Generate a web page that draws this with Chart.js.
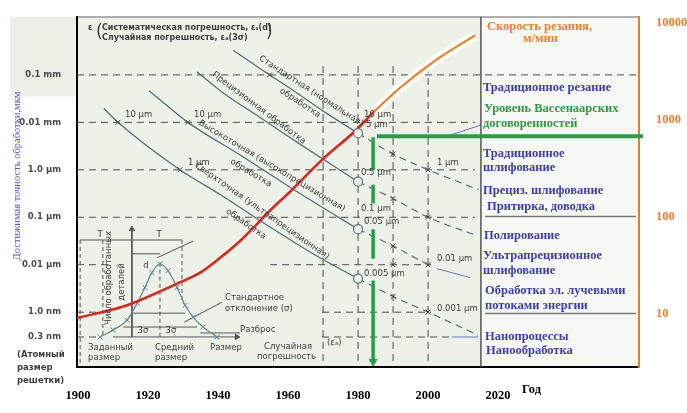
<!DOCTYPE html>
<html>
<head>
<meta charset="utf-8">
<script src="https://cdn.jsdelivr.net/npm/chart.js@4"></script>
<style>
  html, body { margin: 0; padding: 0; background: #fff; }
  canvas { display: block; }
</style>
</head>
<body>
<canvas id="chart" width="687" height="413"></canvas>
<script>
// ось X - годы
const yearTicks = [1900, 1920, 1940, 1960, 1980, 2000, 2020];
// левая ось - достижимая точность, мкм
const accTicks = [100, 10, 1, 0.1, 0.01, 0.001, 0.0003];
const accLabels = ['0.1 mm', '0.01 mm', '1.0 μm', '0.1 μm', '0.01 μm', '1.0 nm', '0.3 nm'];
// правая ось - скорость резания, м/мин
const speedTicks = [10, 100, 1000, 10000];

// скорость резания (красный участок и оранжевый)
const speedYears = [1899.7, 1914, 1928.3, 1934.9, 1940.6, 1946.3, 1950, 1954.9, 1960.6, 1969.7, 1979.7, 1984.3];
const speedVals = [0.00075, 0.0014, 0.004, 0.0068, 0.014, 0.0316, 0.059, 0.14, 0.348, 1.62, 7.15, 16.2];
const speedYears2 = [1984.3, 1992, 2002.6, 2013.4];
const speedVals2 = [16.2, 53.6, 215, 681];

// линии точности до 1980
const normYears = [1944.3, 1952.6, 1962, 1970.6, 1980];
const normVals = [332, 127, 44.3, 16.2, 5.9];
const precYears = [1934, 1941.4, 1952, 1963.4, 1980];
const precVals = [115, 42.2, 12.7, 3.48, 0.562];
const highYears = [1920.3, 1931.4, 1946.3, 1963.4, 1980];
const highVals = [46.4, 10, 2.05, 0.316, 0.0562];
const ultraYears = [1907.4, 1911.4, 1929.1, 1940.6, 1954.9, 1969.1, 1980];
const ultraVals = [19.6, 10, 1, 0.301, 0.0619, 0.014, 0.0051];

// прогноз после 1980
const fcYears = [1980, 1990, 2000, 2014.3];
const normFc = [5.9, 2.15, 1, 0.383];
const precFc = [0.562, 0.249, 0.1, 0.0402];
const highFc = [0.0562, 0.0249, 0.01];
const ultraFc = [0.0051, 0.00215, 0.001, 0.00033];

// кружки 1980 и крестики
const circleVals = [5.9, 0.562, 0.0562, 0.0051];
const crossYears = [1954.7, 1911.4, 1929.1, 1931.4, 1990, 2000, 1990, 2000, 1990, 1990, 2000, 1990, 2000];
const crossVals = [100, 10, 1, 10, 2.15, 1, 0.249, 0.1, 0.0249, 0.01, 0.01, 0.00215, 0.001];

// врезка: распределение размеров
const gaussYears = [1906.3, 1910, 1914, 1916.9, 1919.1, 1921.1, 1923.4, 1925.7, 1928.3, 1930.6, 1932.9, 1935.7, 1939.7];
const gaussVals = [0.000301, 0.000422, 0.00068, 0.00154, 0.00332, 0.0068, 0.0105, 0.0075, 0.00332, 0.0014, 0.000787, 0.000487, 0.000301];

// уровень Вассенаарских договоренностей
const wassYear = 1984.3;
const wassLevel = 5.1;
const wassDrop = [[4.87, 0.98], [0.487, 0.196], [0.056, 0.0133], [0.00464, 9.1e-5]];

const Y_MIN = 7.1e-5, Y_MAX = 1700;
const panelYear = 2015.1;

// пунктирная сетка: [значение, от, до]
const hGrid = [
  [100, 1899.7, 2062], [10, 1899.7, 2013.4], [1, 1899.7, 2013.4], [0.1, 1899.7, 2013.4],
  [0.01, 1899.7, 1909.1], [0.01, 1954.9, 2000.9],
  [0.001, 1899.7, 1905.4], [0.001, 1969.7, 2000.9],
  [0.0003, 1899.7, 1906.3], [0.0003, 1969.7, 2006.9]
];
const vGrid = [1970, 1980, 1990, 2000];

// отрезки врезки [x1, y1, x2, y2]
const insetDash = [
  [1900.6, 0.0332, 1900.6, Y_MIN], [1907.1, 0.0332, 1907.1, 0.000301],
  [1923.4, 0.011, 1923.4, 0.000301], [1929.7, 0.0332, 1929.7, 0.00178]
];
const insetSolid = [
  [1915.4, 0.0562, 1915.4, 0.000301], [1910, 0.000301, 1945.4, 0.000301],
  [1900.6, 0.0332, 1929.7, 0.0332], [1915.4, 0.017, 1923.4, 0.017],
  [1915.4, 0.000953, 1930.6, 0.000953], [1912.9, 0.000487, 1934, 0.000487],
  [1941.1, 0.00162, 1930.3, 0.000615], [1932.9, 0.0316, 1922.6, 0.014],
  [1934.9, 0.000365, 1946.3, 0.000365]
];
const blueLeaders = [
  [2006.3, 5.36, 2014.9, 8.66], [2002.6, 0.00825, 2012, 0.00536], [2006.9, 0.0003, 2014.3, 0.0003]
];

const pts = (xs, ys) => xs.map((x, i) => ({ x: x, y: ys[i] }));
const segs = (list) => list.flatMap(s => [{ x: s[0], y: s[1] }, { x: s[2], y: s[3] }, { x: s[2], y: null }]);

const line = (data, color, width, dash, extra) => Object.assign({
  data: data, borderColor: color, borderWidth: width, borderDash: dash || [],
  pointRadius: 0, fill: false, tension: 0
}, extra || {});
const smooth = { cubicInterpolationMode: 'monotone' };
const marks = (data, style, r, color, extra) => Object.assign({
  data: data, showLine: false, pointStyle: style, pointRadius: r,
  borderColor: color, backgroundColor: color, pointBorderWidth: 1
}, extra || {});

const LINE = '#5b6e7c', DASH = [7, 5], GRID = '#4d4d4d', INK = '#555';

// снизу вверх
let layers = [
  line(segs([[panelYear, Y_MAX, panelYear, Y_MIN]]), '#555', 1.5),
  line(segs([[2016.3, 100, 2059.4, 100], [2016.3, 10, 2059.4, 10]]), '#777', 1.5, null, { yAxisID: 'y2' }),
  line(segs(hGrid.map(g => [g[1], g[0], g[2], g[0]])), GRID, 1, DASH),
  line(segs(vGrid.map(v => [v, 154, v, Y_MIN])), GRID, 1, DASH),
  line(segs(insetDash), INK, 1, [4, 3]),
  line(segs(insetSolid), INK, 1),
  line(pts(gaussYears, gaussVals), '#6a8596', 1.2, null,
    Object.assign({ pointStyle: 'crossRot', pointRadius: 3.5, pointBorderWidth: 1 }, smooth)),
  line(pts(normYears, normVals), LINE, 1.3, null, smooth),
  line(pts(precYears, precVals), LINE, 1.3, null, smooth),
  line(pts(highYears, highVals), LINE, 1.3, null, smooth),
  line(pts(ultraYears, ultraVals), LINE, 1.3, null, smooth),
  line(pts(fcYears, normFc), '#55606a', 1.1, DASH, smooth),
  line(pts(fcYears, precFc), '#55606a', 1.1, DASH, smooth),
  line(pts(fcYears, highFc), '#55606a', 1.1, DASH, smooth),
  line(pts(fcYears, ultraFc), '#55606a', 1.1, DASH, smooth),
  line(segs(blueLeaders), '#5566c4', 0.9),
  marks(pts(crossYears, crossVals), 'crossRot', 3.5, '#444'),
  line(pts(speedYears2, speedVals2), 'rgba(255,255,255,0.85)', 10, null, smooth),
  line(pts(speedYears, speedVals), '#e3211c', 2.5, null, smooth),
  line(pts(speedYears2, speedVals2), '#f47a20', 2, null, smooth),
  marks(pts(circleVals.map(() => 1980), circleVals), 'circle', 4.5, LINE,
    { backgroundColor: '#eef2ea', pointBorderWidth: 1.2 }),
  line(segs(wassDrop.map(d => [wassYear, d[0], wassYear, d[1]])), '#23a046', 3.5),
  line(pts([wassYear + 1.1, 2061.4], [wassLevel, wassLevel]), '#23a046', 4, null, { clip: false }),
  marks([{ x: wassYear, y: 9.1e-5 }], 'triangle', 4.5, '#23a046', { pointRotation: 180 }),
  marks([{ x: 1915.4, y: 0.0562 }], 'triangle', 3, INK),
  marks([{ x: 1945.4, y: 0.000301 }], 'triangle', 3, INK, { pointRotation: 90 })
];
layers = layers.reverse();

// подписи
const SM = '8.5px "DejaVu Sans"';
const SMB = 'bold 8px "DejaVu Sans"';
const PAN = 'bold 12.5px "Liberation Serif"';
const TXT = '#3e3e3e', BLUE = '#3d3db5', GREEN = '#2e9a42', ORANGE = '#f07f2d';

const notes = [
  ['ε', 88, 28, SMB, TXT], ['(', 96, 33, '17px "DejaVu Sans"', TXT],
  ['Систематическая погрешность, εₛ(d)', 102, 28, SMB, TXT],
  ['Случайная погрешность, εₐ(3σ)', 102, 38, SMB, TXT],
  [')', 266, 33, '17px "DejaVu Sans"', TXT],

  ['10 μm', 125, 115, SM, TXT], ['10 μm', 194, 115, SM, TXT], ['1 μm', 188, 163, SM, TXT],
  ['10 μm', 364, 115, SM, TXT], ['5 μm', 366, 125, SM, TXT], ['0.5 μm', 361, 173, SM, TXT],
  ['0.1 μm', 361, 209, SM, TXT], ['0.05 μm', 364, 222, SM, TXT], ['0.005 μm', 364, 274, SM, TXT],
  ['1 μm', 437, 163, SM, TXT], ['0.01 μm', 437, 259, SM, TXT], ['0.001 μm', 437, 309, SM, TXT],

  ['Стандартная (нормальная)', 311, 91, SM, TXT, 'center', 33],
  ['обработка', 300, 103, SM, TXT, 'center', 33],
  ['Прецизионная обработка', 259, 108, SM, TXT, 'center', 37],
  ['Высокоточная (высокопрецизионная)', 272, 166, SM, TXT, 'center', 31],
  ['обработка', 251, 173, SM, TXT, 'center', 31],
  ['Сверхточная (ультрапрецизионная)', 262, 211, SM, TXT, 'center', 35],
  ['обработка', 246, 224, SM, TXT, 'center', 35],

  ['T', 100, 235, SM, TXT, 'center'], ['T', 159, 235, SM, TXT, 'center'],
  ['d', 146, 266, SM, TXT, 'center'],
  ['3σ', 143, 331, SM, TXT, 'center'], ['3σ', 171, 331, SM, TXT, 'center'],
  ['Число обработанных', 109, 278, SM, TXT, 'center', -90],
  ['деталей', 122, 282, SM, TXT, 'center', -90],
  ['Стандартное', 225, 298, SM, TXT], ['отклонение (σ)', 225, 309, SM, TXT],
  ['Разброс', 240, 330, SM, TXT],
  ['Заданный', 88, 348, SM, TXT], ['размер', 88, 358, SM, TXT],
  ['Средний', 155, 348, SM, TXT], ['размер', 155, 358, SM, TXT],
  ['Размер', 210, 348, SM, TXT],
  ['Случайная', 264, 347, SM, TXT], ['погрешность', 257, 357, SM, TXT],
  ['(εₐ)', 327, 343, SM, TXT],

  ['Скорость резания,', 487, 27, PAN, ORANGE], ['м/мин', 523, 39, PAN, ORANGE],
  ['Традиционное резание', 483, 88, PAN, BLUE],
  ['Уровень Вассенаарских', 484, 109, PAN, GREEN], ['договоренностей', 483, 124, PAN, GREEN],
  ['Традиционное', 483, 154, PAN, BLUE], ['шлифование', 483, 168, PAN, BLUE],
  ['Прециз. шлифование', 483, 191, PAN, BLUE], ['Притирка, доводка', 487, 207, PAN, BLUE],
  ['Полирование', 484, 236, PAN, BLUE],
  ['Ультрапрецизионное', 483, 256, PAN, BLUE], ['шлифование', 483, 271, PAN, BLUE],
  ['Обработка эл. лучевыми', 485, 291, PAN, BLUE], ['потоками энергии', 485, 306, PAN, BLUE],
  ['Нанопроцессы', 485, 337, PAN, BLUE], ['Нанообработка', 486, 351, PAN, BLUE],

  ['Год', 522, 390, PAN, '#000'],
  ['Достижимая точность обработки,мкм', 17, 176, '10.5px "Liberation Serif"', '#5656c8', 'center', -90],
  ['(Атомный', 17, 355, 'bold 8.5px "DejaVu Sans"', TXT],
  ['размер', 17, 368, 'bold 8.5px "DejaVu Sans"', TXT],
  ['решетки)', 17, 381, 'bold 8.5px "DejaVu Sans"', TXT]
];

const drawText = (ctx, n) => {
  ctx.save();
  ctx.font = n[3];
  ctx.fillStyle = n[4];
  ctx.textAlign = n[5] || 'left';
  ctx.textBaseline = 'middle';
  ctx.translate(n[1], n[2]);
  if (n[6]) ctx.rotate(n[6] * Math.PI / 180);
  ctx.fillText(n[0], 0, 0);
  ctx.restore();
};

const backdrop = {
  id: 'backdrop',
  beforeDraw(chart) {
    const ctx = chart.ctx, a = chart.chartArea;
    const px = chart.scales.x.getPixelForValue(panelYear);
    ctx.save();
    ctx.fillStyle = '#fff';
    ctx.fillRect(0, 0, chart.width, chart.height);
    ctx.fillStyle = '#eaf0e6';
    ctx.fillRect(10, a.top, a.left - 10, 80);
    ctx.fillStyle = '#edf2e9';
    ctx.fillRect(a.left, a.top, px - a.left, a.bottom - a.top);
    ctx.fillStyle = '#f6f8f3';
    ctx.fillRect(px, a.top, a.right - px, a.bottom - a.top);
    ctx.strokeStyle = '#666';
    ctx.lineWidth = 1;
    ctx.beginPath();
    ctx.moveTo(a.left, a.top + 0.5);
    ctx.lineTo(a.right, a.top + 0.5);
    ctx.stroke();
    ctx.restore();
  },
  afterDatasetsDraw(chart) {
    notes.forEach(n => drawText(chart.ctx, n));
  }
};

const tickFont = { family: 'Liberation Serif', size: 12.5, weight: 'bold' };

new Chart(document.getElementById('chart'), {
  type: 'line',
  data: { datasets: layers },
  plugins: [backdrop],
  options: {
    responsive: false,
    animation: false,
    events: [],
    layout: { padding: { top: 13, left: 0, right: 0, bottom: 0 } },
    plugins: { legend: { display: false }, tooltip: { enabled: false } },
    scales: {
      x: {
        type: 'linear', min: 1899.7, max: 2060.27,
        afterBuildTicks: s => { s.ticks = yearTicks.map(v => ({ value: v })); },
        afterFit: s => { s.height = 46; },
        grid: { display: false },
        border: { color: '#000', width: 2 },
        ticks: { font: tickFont, color: '#000', padding: 13, autoSkip: false, maxRotation: 0,
          callback: v => String(v) }
      },
      y: {
        type: 'logarithmic', position: 'left', min: Y_MIN, max: Y_MAX,
        afterBuildTicks: s => { s.ticks = accTicks.map(v => ({ value: v })); },
        afterFit: s => { s.width = 77; },
        grid: { display: false },
        border: { color: '#000', width: 2 },
        ticks: { font: { family: 'DejaVu Sans', size: 8.5, weight: 'bold' }, color: '#4a4a4a',
          padding: 8, autoSkip: false, callback: (v, i) => accLabels[i] }
      },
      y2: {
        type: 'logarithmic', position: 'right', min: 2.81, max: 11510,
        afterBuildTicks: s => { s.ticks = speedTicks.map(v => ({ value: v })); },
        afterFit: s => { s.width = 48; },
        grid: { display: false },
        border: { color: '#f47a20', width: 2 },
        ticks: { font: tickFont, color: ORANGE, padding: 9, autoSkip: false,
          callback: v => String(v) }
      }
    }
  }
});
</script>
</body>
</html>
